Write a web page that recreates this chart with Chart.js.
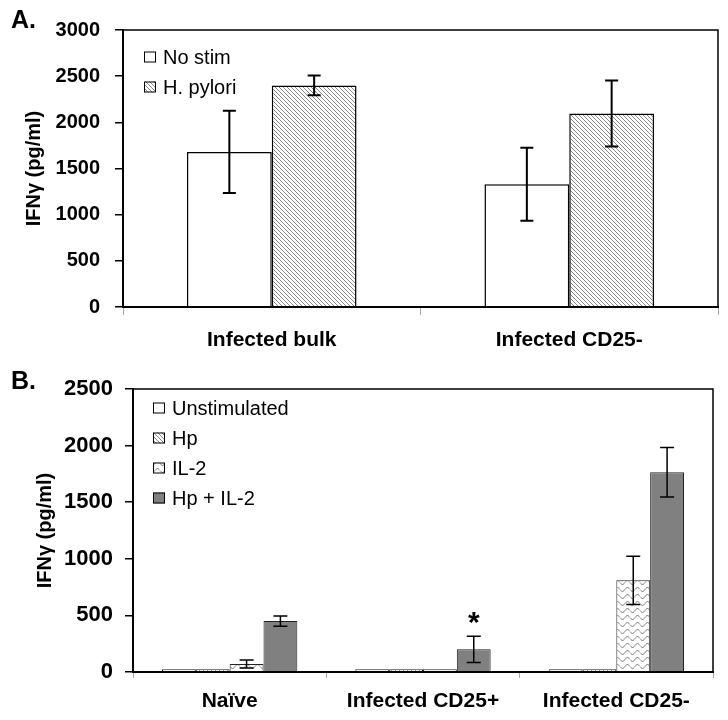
<!DOCTYPE html>
<html>
<head>
<meta charset="utf-8">
<script src="https://cdn.jsdelivr.net/npm/chart.js@4"></script>
<style>
  body { margin:0; background:#fff; }
  #wrap { position:relative; width:728px; height:720px; }
  .panel { position:absolute; left:0; }
  .tag { position:absolute; left:11px; font:bold 25px "Liberation Sans", Arial, sans-serif; color:#000; }
</style>
</head>
<body>
<div id="wrap">
  <canvas id="chartA" class="panel" style="top:0" width="728" height="355"></canvas>
  <canvas id="chartB" class="panel" style="top:355px" width="728" height="365"></canvas>
  <div class="tag" style="top:5px">A.</div>
  <div class="tag" style="top:366px">B.</div>
</div>
<script>
// panel A data
const catsA = ['Infected bulk', 'Infected CD25-'];
const noStim = [1680, 1330];
const noStimErr = [445, 395];
const hPylori = [2400, 2095];
const hPyloriErr = [107, 357];
const ticksA = [0, 500, 1000, 1500, 2000, 2500, 3000];

// panel B data
const catsB = ['Naïve', 'Infected CD25+', 'Infected CD25-'];
const unstim = [25, 25, 25];
const hp = [25, 25, 25];
const il2 = [70, 25, 810];
const il2Err = [35, 0, 213];
const hpIl2 = [450, 200, 1765];
const hpIl2Err = [45, 115, 218];
const ticksB = [0, 500, 1000, 1500, 2000, 2500];

const FONT = '"Liberation Sans", Arial, sans-serif';

// fill patterns
function hatch() {
  const c = document.createElement('canvas'); c.width = 4; c.height = 4;
  const g = c.getContext('2d');
  g.fillStyle = '#fff'; g.fillRect(0, 0, 4, 4);
  g.fillStyle = '#8a8a8a';
  for (let i = 0; i < 4; i++) g.fillRect(i, i, 1, 1);
  return g.createPattern(c, 'repeat');
}
function wave() {
  const c = document.createElement('canvas'); c.width = 10; c.height = 7;
  const g = c.getContext('2d');
  g.fillStyle = '#fff'; g.fillRect(0, 0, 10, 7);
  g.strokeStyle = '#777'; g.lineWidth = 1;
  g.beginPath();
  for (let x = 0; x <= 10; x += 0.5) {
    const y = 3.5 + 2 * Math.sin(x / 10 * 2 * Math.PI);
    if (x === 0) g.moveTo(x, y); else g.lineTo(x, y);
  }
  g.stroke();
  return g.createPattern(c, 'repeat');
}

// error bars from dataset.err
const errorBars = {
  id: 'errorBars',
  afterDatasetsDraw(chart, args, opts) {
    const ctx = chart.ctx, y = chart.scales.y;
    ctx.save();
    ctx.strokeStyle = '#000'; ctx.lineWidth = opts.width;
    chart.data.datasets.forEach((ds, i) => {
      if (!ds.err) return;
      chart.getDatasetMeta(i).data.forEach((bar, j) => {
        const e = ds.err[j];
        if (!e) return;
        const top = y.getPixelForValue(ds.data[j] + e);
        const bot = y.getPixelForValue(ds.data[j] - e);
        ctx.beginPath();
        ctx.moveTo(bar.x, top); ctx.lineTo(bar.x, bot);
        ctx.moveTo(bar.x - opts.cap, top); ctx.lineTo(bar.x + opts.cap, top);
        ctx.moveTo(bar.x - opts.cap, bot); ctx.lineTo(bar.x + opts.cap, bot);
        ctx.stroke();
      });
    });
    // significance star
    if (opts.star) {
      const ds = chart.data.datasets[opts.star.dataset];
      const bar = chart.getDatasetMeta(opts.star.dataset).data[opts.star.index];
      const top = y.getPixelForValue(ds.data[opts.star.index] + ds.err[opts.star.index]);
      ctx.fillStyle = '#000';
      ctx.font = 'bold 30px ' + FONT;
      ctx.textAlign = 'center'; ctx.textBaseline = 'alphabetic';
      ctx.fillText('*', bar.x, top - 4);
    }
    ctx.restore();
  }
};

// box around plot + legend inside
const frameLegend = {
  id: 'frameLegend',
  afterDraw(chart, args, opts) {
    const ctx = chart.ctx, a = chart.chartArea;
    ctx.save();
    ctx.strokeStyle = '#000'; ctx.lineWidth = 1.5;
    ctx.strokeRect(a.left, a.top, a.right - a.left, a.bottom - a.top);
    ctx.font = opts.size + 'px ' + FONT;
    ctx.textBaseline = 'middle'; ctx.textAlign = 'left';
    chart.data.datasets.forEach((ds, i) => {
      const cy = opts.y + i * opts.step;
      ctx.fillStyle = ds.backgroundColor;
      ctx.fillRect(opts.x, cy - 5.5, 12, 11);
      ctx.lineWidth = 1; ctx.strokeStyle = '#000';
      ctx.strokeRect(opts.x + 0.5, cy - 5, 11, 10);
      ctx.fillStyle = '#000';
      ctx.fillText(ds.label, opts.x + 19, cy + 1);
    });
    ctx.restore();
  }
};

function yAxis(max, ticks, width, pad, titlePad, size) {
  return {
    min: 0, max: max,
    afterBuildTicks(s) { s.ticks = ticks.map(v => ({ value: v })); },
    ticks: { color: '#000', padding: pad, font: { family: FONT, size: size, weight: 'bold' },
             callback: v => String(v) },
    grid: { drawOnChartArea: false, tickLength: 8, color: '#000', lineWidth: 1.5 },
    border: { color: '#000', width: 2 },
    title: { display: true, text: 'IFNγ (pg/ml)', color: '#000', padding: { top: titlePad, bottom: 0 },
             font: { family: FONT, size: 20, weight: 'bold' } },
    afterFit(s) { s.width = width; }
  };
}
function xAxis(tl, pad) {
  return {
    ticks: { color: '#000', padding: pad, maxRotation: 0, font: { family: FONT, size: 21, weight: 'bold' } },
    grid: { offset: true, drawOnChartArea: false, tickLength: tl, color: '#aaa' },
    border: { color: '#000', width: 2 },
    afterFit(s) { s.height = 48; }
  };
}

new Chart(document.getElementById('chartA'), {
  type: 'bar',
  data: {
    labels: catsA,
    datasets: [
      { label: 'No stim', data: noStim, err: noStimErr, backgroundColor: '#fff' },
      { label: 'H. pylori', data: hPylori, err: hPyloriErr, backgroundColor: hatch() }
    ]
  },
  options: {
    responsive: false, animation: false,
    layout: { padding: { top: 30, right: 10, left: 0, bottom: 0 } },
    datasets: { bar: { categoryPercentage: 0.57, barPercentage: 1, borderColor: '#000', borderWidth: 1.5 } },
    scales: { x: xAxis(8, 13), y: yAxis(3000, ticksA, 123, 15, 22, 20) },
    plugins: {
      legend: { display: false }, tooltip: { enabled: false },
      errorBars: { width: 2, cap: 6.5 },
      frameLegend: { x: 144, y: 57, step: 30, size: 20 }
    }
  },
  plugins: [errorBars, frameLegend]
});

new Chart(document.getElementById('chartB'), {
  type: 'bar',
  data: {
    labels: catsB,
    datasets: [
      { label: 'Unstimulated', data: unstim, backgroundColor: '#fff' },
      { label: 'Hp', data: hp, backgroundColor: hatch() },
      { label: 'IL-2', data: il2, err: il2Err, backgroundColor: wave() },
      { label: 'Hp + IL-2', data: hpIl2, err: hpIl2Err, backgroundColor: '#808080' }
    ]
  },
  options: {
    responsive: false, animation: false,
    layout: { padding: { top: 34, right: 15, left: 0, bottom: 0 } },
    datasets: { bar: { categoryPercentage: 0.7, barPercentage: 1, borderColor: '#222', borderWidth: 1 } },
    scales: { x: xAxis(6, 11), y: yAxis(2500, ticksB, 133, 12, 33, 22) },
    plugins: {
      legend: { display: false }, tooltip: { enabled: false },
      errorBars: { width: 1.5, cap: 7, star: { dataset: 3, index: 1 } },
      frameLegend: { x: 153, y: 53, step: 30, size: 20 }
    }
  },
  plugins: [errorBars, frameLegend]
});
</script>
</body>
</html>
